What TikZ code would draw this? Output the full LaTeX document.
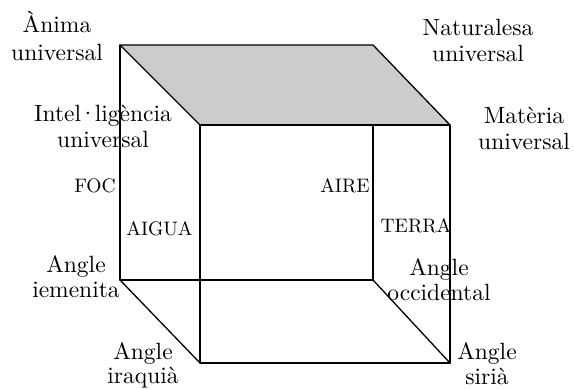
\documentclass[tikz,border=0pt]{standalone}
\usepackage{fontspec}
\setmainfont{lmroman10-regular}[Extension=.otf]
\begin{document}
\begin{tikzpicture}[x=1pt,y=-1pt,
  edge/.style={line width=1.3pt, line cap=round, line join=round},
  big/.style={font=\fontsize{23.5}{27}\selectfont, anchor=base, inner sep=0pt},
  small/.style={font=\fontsize{19.5}{22}\selectfont, anchor=base, inner sep=0pt}]
\useasboundingbox (0,0) rectangle (574,390);
% cube corners
\coordinate (A) at (120,45);
\coordinate (B) at (373,45);
\coordinate (C) at (450,125);
\coordinate (D) at (200,125);
\coordinate (E) at (120,280);
\coordinate (F) at (373,280);
\coordinate (G) at (450,363);
\coordinate (H) at (200,363);
\coordinate (Fb) at (373,125);
% top face
\filldraw[edge, fill=black!20] (A) -- (B) -- (C) -- (D) -- cycle;
\draw[line width=2.3pt] (D) -- (C);
% verticals
\draw[edge] (A) -- (E);
\draw[edge] (D) -- (H);
\draw[edge] (C) -- (G);
\draw[edge] (Fb) -- (F);
% bottom
\draw[edge] (E) -- (F);
\draw[edge] (E) -- (H);
\draw[edge] (F) -- (G);
\draw[edge] (H) -- (G);
% labels
\node[big] (l1a) at (57,33) {Ànima};
\node[big] (l1b) at (57,61) {universal};
\node[big] (l2a) at (478,36) {Naturalesa};
\node[big] (l2b) at (478,62) {universal};
\node[big] (l3a) at (103,122) {Intel\kern-0.1em·\kern-0.1em ligència};
\node[big] (l3b) at (103,148) {universal};
\node[big] (l4a) at (524,124) {Matèria};
\node[big] (l4b) at (524,150) {universal};
\node[small] (foc) at (95,193) {FOC};
\node[small] (aire) at (345,193) {AIRE};
\node[small] (aigua) at (159.5,236) {AIGUA};
\node[small] (terra) at (416,233) {TERRA};
\node[big] (l5a) at (76,273) {Angle};
\node[big] (l5b) at (76,298) {iemenita};
\node[big] (l6a) at (439,276) {Angle};
\node[big] (l6b) at (439,301) {occidental};
\node[big] (l7a) at (143,360) {Angle};
\node[big] (l7b) at (143,384) {iraquià};
\node[big] (l8a) at (487,360) {Angle};
\node[big] (l8b) at (487,385) {sirià};
\end{tikzpicture}
\end{document}
